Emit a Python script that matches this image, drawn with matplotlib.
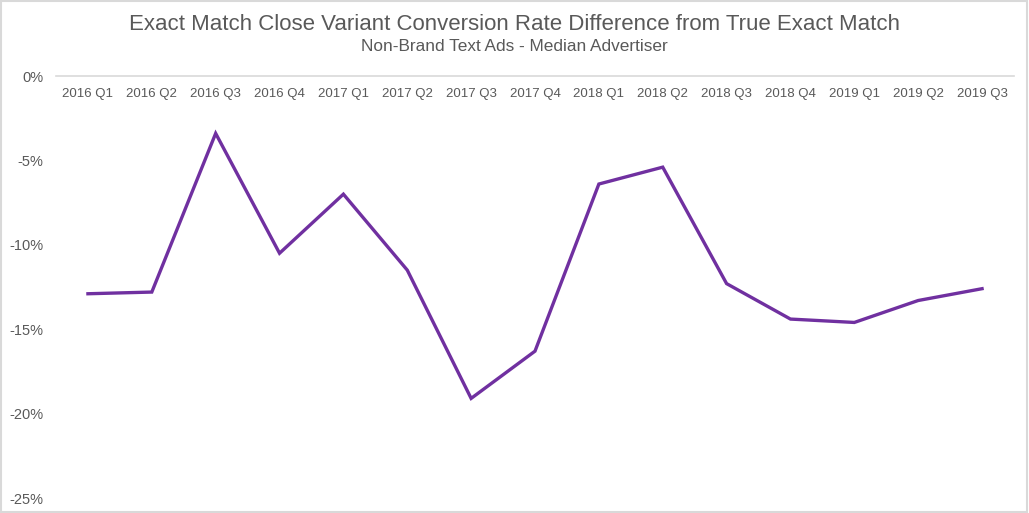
import matplotlib
matplotlib.use("Agg")
import matplotlib.pyplot as plt
from matplotlib.patches import Rectangle
from matplotlib.ticker import FuncFormatter

quarters = ["2016 Q1", "2016 Q2", "2016 Q3", "2016 Q4",
            "2017 Q1", "2017 Q2", "2017 Q3", "2017 Q4",
            "2018 Q1", "2018 Q2", "2018 Q3", "2018 Q4",
            "2019 Q1", "2019 Q2", "2019 Q3"]
cvr_diff = [-12.9, -12.8, -3.4, -10.5,
            -7.0, -11.5, -19.1, -16.3,
            -6.4, -5.4, -12.3, -14.4,
            -14.6, -13.3, -12.6]
y_ticks = [0, -5, -10, -15, -20, -25]

text_color = "#595959"
plt.rcParams["font.family"] = ["Liberation Sans", "DejaVu Sans"]

fig = plt.figure(figsize=(10.29, 5.13), dpi=100)
ax = fig.add_axes([56 / 1029, 1 - 498 / 513, (1014 - 56) / 1029, (498 - 76) / 513])

x = range(len(quarters))
ax.plot(x, cvr_diff, color="#7030A0", linewidth=2.4, solid_joinstyle="miter")

ax.set_xlim(-0.5, len(quarters) - 0.5)
ax.set_ylim(-25, 0)
ax.set_yticks(y_ticks)
ax.yaxis.set_major_formatter(FuncFormatter(lambda v, p: f"{v:.0f}%"))
ax.set_xticks(list(x))
ax.set_xticklabels(quarters)

for side in ["left", "right", "bottom"]:
    ax.spines[side].set_visible(False)
ax.spines["top"].set_color("#d9d9d9")
ax.spines["top"].set_linewidth(1.2)

ax.tick_params(axis="x", top=False, bottom=False, labeltop=True, labelbottom=False,
               pad=-21, labelsize=9.5, labelcolor=text_color)
ax.tick_params(axis="y", left=False, pad=5.5, labelsize=10.5, labelcolor=text_color)

fig.text(0.5, 1 - 25 / 513, "Exact Match Close Variant Conversion Rate Difference from True Exact Match",
         ha="center", va="center", fontsize=16, color=text_color)
fig.text(0.5, 1 - 47 / 513, "Non-Brand Text Ads - Median Advertiser",
         ha="center", va="center", fontsize=12.4, color=text_color)

fig.patches.append(Rectangle((0.001, 0.001), 0.997, 0.997, transform=fig.transFigure,
                             fill=False, edgecolor="#d9d9d9", linewidth=1.5))

fig.savefig("out.png", dpi=100)
